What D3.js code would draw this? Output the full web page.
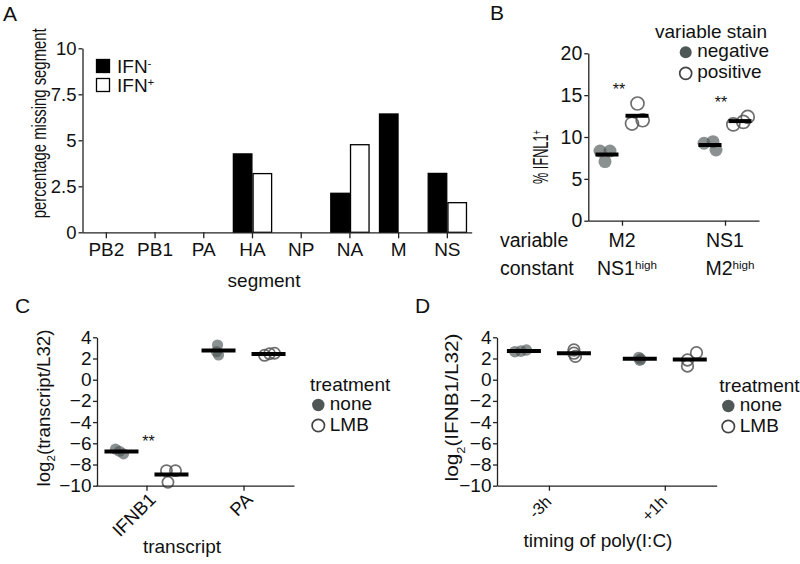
<!DOCTYPE html>
<html><head><meta charset="utf-8">
<script src="https://cdn.jsdelivr.net/npm/d3@7"></script>
<style>body{margin:0;background:#fff}</style>
</head><body><svg id="c" width="800" height="564"></svg>
<script>
// ---------- Panel A data ----------
const segments = ["PB2","PB1","PA","HA","NP","NA","M","NS"];
const ifnGroups = ["IFN-","IFN+"];
const ifnNegative = [0,0,0,4.26,0,2.12,6.43,3.2];
const ifnPositive = [0,0,0,3.19,0,4.76,0,1.61];
const aTicks = [0,2.5,5,7.5,10];

// ---------- Panel B data ----------
const bVariables = ["M2","NS1"];
const bConstants = ["NS1","M2"];
const bStains = ["negative","positive"];
const bNegative = [[8.33,8.33,7.06],[9.25,9.44,8.45]];
const bPositive = [[14.0,11.6,12.0],[11.5,11.8,12.4]];
const bJitterNeg = [[-7,3,-2],[-6,3,6]];
const bJitterPos = [[0.5,-5,5.7],[-6.7,3.3,7.7]];
const bTicks = [0,5,10,15,20];

// ---------- Panel C data ----------
const cTranscripts = ["IFNB1","PA"];
const treatments = ["none","LMB"];
const cNone = [[-6.55,-6.75,-7.0],[3.27,2.64,2.33]];
const cLMB = [[-8.58,-8.58,-9.68],[2.3,2.5,2.45]];
const cJitterNone = [[-6,-2,2],[-1,-2,0]];
const cJitterLMB = [[-5,4,-3.5],[-4,6,1]];
const logTicks = [-10,-8,-6,-4,-2,0,2,4];

// ---------- Panel D data ----------
const dTimings = ["-3h","+1h"];
const dNone = [[2.64,2.8,2.7],[2.1,1.95,1.85]];
const dLMB = [[2.8,2.5,2.2],[2.55,1.86,1.29]];
const dJitterNone = [[-9,2.5,-3],[-1,1,0]];
const dJitterLMB = [[0,0,1.5],[6.7,-2.3,-2.3]];

const FONT = '"Liberation Sans", Arial, Helvetica, sans-serif';
const svg = d3.select("#c");
svg.append("rect").attr("width",800).attr("height",564).attr("fill","#fff");
const INK = "#111";
const FILL = "#4f5656";

function styleAxis(g, fs){
  g.attr("font-family", FONT).attr("font-size", fs);
  g.selectAll(".domain").attr("stroke","#222").attr("stroke-width",1.3);
  g.selectAll(".tick line").attr("stroke","#222").attr("stroke-width",1.3);
  g.selectAll(".tick text").attr("fill", INK);
}
function text(x, y, str, fs, anchor){
  return svg.append("text").attr("x",x).attr("y",y).attr("font-family",FONT)
    .attr("font-size",fs).attr("fill",INK).attr("text-anchor",anchor||"start").text(str);
}
function richText(x, y, parts, fs, anchor){
  const t = svg.append("text").attr("font-family",FONT).attr("font-size",fs).attr("fill",INK)
    .attr("text-anchor",anchor||"start").attr("x",x).attr("y",y);
  parts.forEach(p=>{
    const s = t.append("tspan").text(p.t);
    if (p.sub){ s.attr("baseline-shift","sub").attr("font-size",fs*0.62); }
    if (p.sup){ s.attr("baseline-shift","super").attr("font-size",fs*0.6); }
  });
  return t;
}
// rotated axis title, squeezed along its length to the reference's length
function rotTitle(parts, cx, cy, fs, len){
  const t = richText(0, 0, parts, fs, "middle");
  const natural = t.node().getComputedTextLength();
  t.attr("transform", `translate(${cx},${cy}) rotate(-90) scale(${len/natural},1)`);
  return t;
}

// ======================= Panel A =======================
const xA = d3.scaleBand().domain(segments).range([82,471.7]).paddingInner(0.19).paddingOuter(0.095);
const xA1 = d3.scaleBand().domain(ifnGroups).range([0, xA.bandwidth()]);
const yA = d3.scaleLinear().domain([0,10]).range([232.3,48.3]);
const aSeries = [ifnNegative, ifnPositive];
ifnGroups.forEach((grp, gi)=>{
  segments.forEach((s, i)=>{
    const v = aSeries[gi][i];
    if (v <= 0) return;
    svg.append("rect")
      .attr("x", xA(s)+xA1(grp)+0.6).attr("width", xA1.bandwidth()-1.2)
      .attr("y", yA(v)).attr("height", yA(0)-yA(v))
      .attr("fill", gi===0 ? "#000" : "#fff").attr("stroke","#000").attr("stroke-width",1.3);
  });
});
styleAxis(svg.append("g").attr("transform","translate(0,232.3)")
  .call(d3.axisBottom(xA).tickSize(6).tickPadding(4).tickSizeOuter(0)), 19);
styleAxis(svg.append("g").attr("transform","translate(82.5,0)")
  .call(d3.axisLeft(yA).tickValues(aTicks).tickFormat(d=>String(d)).tickSize(4).tickPadding(2).tickSizeOuter(0)), 18.5);
// legend A
ifnGroups.forEach((grp, gi)=>{
  const yy = 59 + gi*19;
  svg.append("rect").attr("x",96.5).attr("y",yy+0.5).attr("width",13).attr("height",13)
    .attr("fill", gi===0 ? "#000" : "#fff").attr("stroke","#000").attr("stroke-width",1.3);
  richText(117, yy+14, [{t:grp.slice(0,-1)},{t:grp.slice(-1), sup:true}], 19);
});
text(264, 287, "segment", 19, "middle");
rotTitle([{t:"percentage missing segment"}], 46, 123.3, 19.5, 190);
text(3, 21, "A", 21);

// ======================= dot panels helper =======================
function dotPanel(x, y, cats, filledVals, openVals, jF, jO, dodge, r, half){
  cats.forEach((c,i)=>{
    [[filledVals, jF, -1, true],[openVals, jO, 1, false]].forEach(([vals, jit, side, filled])=>{
      const cx = x(c) + side*dodge;
      vals[i].forEach((v,k)=>{
        const circ = svg.append("circle").attr("cx", cx + jit[i][k]).attr("cy", y(v)).attr("r", r);
        if (filled) circ.attr("fill", FILL).attr("fill-opacity",0.66);
        else circ.attr("fill","none").attr("stroke","#555").attr("stroke-opacity",0.85).attr("stroke-width",1.7);
      });
      const m = d3.mean(vals[i]);
      svg.append("line").attr("x1",cx-half).attr("x2",cx+half).attr("y1",y(m)).attr("y2",y(m))
        .attr("stroke","#000").attr("stroke-width",4);
    });
  });
}
function legendDots(tx, x, y0, gap, title, labels, r){
  text(tx, y0 - 14.5, title, 19);
  labels.forEach((lab, i)=>{
    const cy = y0 + i*gap;
    const c = svg.append("circle").attr("cx", x).attr("cy", cy).attr("r", r);
    if (i===0) c.attr("fill", FILL);
    else c.attr("fill","#fff").attr("stroke","#444").attr("stroke-width",1.7);
    text(x + 11.5, cy + 5, lab, 19);
  });
}

// ======================= Panel B =======================
const xB = d3.scalePoint().domain(bVariables).range([588,759]).padding(0.33);
const yB = d3.scaleLinear().domain([0,20]).range([220.7,53.3]);
dotPanel(xB, yB, bVariables, bNegative, bPositive, bJitterNeg, bJitterPos, 15, 6.5, 11.5);
styleAxis(svg.append("g").attr("transform","translate(0,220.7)")
  .call(d3.axisBottom(xB).tickSize(5).tickFormat("").tickSizeOuter(0)), 19);
styleAxis(svg.append("g").attr("transform","translate(588.3,0)")
  .call(d3.axisLeft(yB).tickValues(bTicks).tickSize(4).tickPadding(2).tickSizeOuter(0)), 19.5);
text(500, 246.7, "variable", 19.5);
text(500, 275, "constant", 19.5);
bVariables.forEach((v,i)=>{
  text(xB(v), 246.7, v, 19.5, "middle");
  richText(xB(v)+5, 275, [{t:bConstants[i]},{t:"high", sup:true}], 19.5, "middle");
});
text(xB("M2")-3, yB(15.0), "**", 16, "middle");
text(xB("NS1")-4, yB(13.5), "**", 16, "middle");
legendDots(655, 685.7, 52.3, 21, "variable stain", bStains, 6);
rotTitle([{t:"% IFNL1"},{t:"+", sup:true}], 548, 157, 22, 54);
text(490, 20, "B", 21);

// ======================= Panel C =======================
const xC = d3.scalePoint().domain(cTranscripts).range([96,294]).padding(0.52);
const yC = d3.scaleLinear().domain([-10,4]).range([485.7,337.3]);
dotPanel(xC, yC, cTranscripts, cNone, cLMB, cJitterNone, cJitterLMB, 25, 5.6, 17);
const axC = svg.append("g").attr("transform","translate(0,485.7)")
  .call(d3.axisBottom(xC).tickSize(5).tickSizeOuter(0));
styleAxis(axC, 18.5);
axC.selectAll(".tick text").attr("text-anchor","end").attr("y",0).attr("dy",0)
  .attr("transform","translate(10,15) rotate(-45)");
styleAxis(svg.append("g").attr("transform","translate(97,0)")
  .call(d3.axisLeft(yC).tickValues(logTicks).tickSize(4).tickPadding(1.5).tickSizeOuter(0)), 19);
text(xC("IFNB1")+2, yC(-6.32), "**", 16, "middle");
legendDots(310, 318.3, 405, 20.5, "treatment", treatments, 6.2);
text(182, 553, "transcript", 19, "middle");
rotTitle([{t:"log"},{t:"2", sub:true},{t:"(transcript/L32)"}], 49.5, 408, 18.5, 157);
text(15, 313, "C", 21);

// ======================= Panel D =======================
const xD = d3.scalePoint().domain(dTimings).range([497,716.7]).padding(0.448);
const yD = d3.scaleLinear().domain([-10,4]).range([485.7,337.3]);
dotPanel(xD, yD, dTimings, dNone, dLMB, dJitterNone, dJitterLMB, 25, 5.8, 17);
const axD = svg.append("g").attr("transform","translate(0,485.7)")
  .call(d3.axisBottom(xD).tickSize(5).tickSizeOuter(0));
styleAxis(axD, 16.5);
axD.selectAll(".tick text").attr("text-anchor","end").attr("y",0).attr("dy",0)
  .attr("transform","translate(3,17) rotate(-45)");
styleAxis(svg.append("g").attr("transform","translate(497,0)")
  .call(d3.axisLeft(yD).tickValues(logTicks).tickSize(4).tickPadding(1.5).tickSizeOuter(0)), 19);
legendDots(719.3, 728.3, 406, 20.5, "treatment", treatments, 6.2);
text(598, 547, "timing of poly(I:C)", 19, "middle");
rotTitle([{t:"log"},{t:"2", sub:true},{t:"(IFNB1/L32)"}], 458, 407.5, 18.5, 148);
text(415, 313, "D", 21);
</script></body></html>
